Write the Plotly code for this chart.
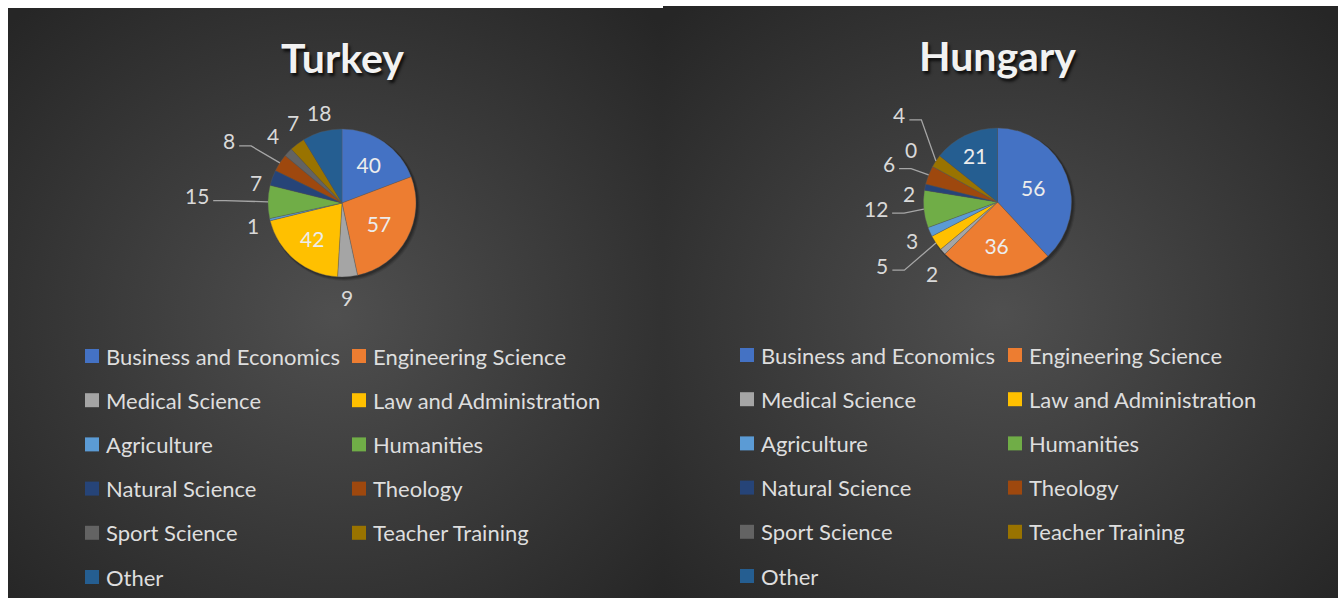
import base64
import math
import plotly.graph_objects as go

W, H = 1338, 598

categories = ["Business and Economics", "Engineering Science", "Medical Science",
              "Law and Administration", "Agriculture", "Humanities", "Natural Science",
              "Theology", "Sport Science", "Teacher Training", "Other"]
turkey_values = [40, 57, 9, 42, 1, 15, 7, 8, 4, 7, 18]
hungary_values = [56, 36, 2, 5, 3, 12, 2, 6, 0, 4, 21]
colors = ["#4472C4", "#ED7D31", "#A5A5A5", "#FFC000", "#5B9BD5", "#70AD47",
          "#264478", "#9E480E", "#636363", "#997300", "#255E91"]

# label layout (style, not data): which labels sit inside, nudges, leader lines
turkey_inside = [True, True, False, True, False, False, False, False, False, False, False]
hungary_inside = [True, True, False, False, False, False, False, False, False, False, True]
turkey_nudge = [(0, 0), (0, 0), (-2, 1), (0, 0), (3, 1), (-51, -6), (2, 12), (-34, -11),
                (-1, -3), (8, -6), (2, 0)]
hungary_nudge = [(0, 0), (0, 0), (4, 8), (-37, 11), (0, 0), (-28, -3), (4, 10), (-21, -4),
                 (-4, -7), (-20, -35), (0, 0)]
turkey_leader = [False, False, False, False, False, True, False, True, False, False, False]
hungary_leader = [False, False, False, True, False, True, False, True, False, True, False]

FONT = "Lato, 'Open Sans', sans-serif"
LABEL_SIZE = 21


def X(px):
    return px / W


def Y(py):
    return 1 - py / H


def grad_svg(w, h):
    svg = f'''<svg xmlns="http://www.w3.org/2000/svg" width="{w}" height="{h}" viewBox="0 0 {w} {h}" preserveAspectRatio="none">
<defs><radialGradient id="g" cx="50%" cy="52%" r="70%">
<stop offset="0%" stop-color="#4f4f4f"/><stop offset="100%" stop-color="#262626"/>
</radialGradient></defs><rect width="{w}" height="{h}" fill="url(#g)"/></svg>'''
    return "data:image/svg+xml;base64," + base64.b64encode(svg.encode()).decode()


panels = [
    dict(name="Turkey", values=turkey_values, inside=turkey_inside, nudge=turkey_nudge,
         leader=turkey_leader, box=(8, 8, 663, 598), cx=342, cy=203, r=74, title_y=57,
         legx=(85, 352), legy0=356),
    dict(name="Hungary", values=hungary_values, inside=hungary_inside, nudge=hungary_nudge,
         leader=hungary_leader, box=(663, 6, 1338, 598), cx=997.5, cy=202, r=74, title_y=55,
         legx=(740, 1008), legy0=355),
]

fig = go.Figure()
images, shapes, annotations = [], [], []
for p in panels:
    x0, y0, x1, y1 = p["box"]
    images.append(dict(source=grad_svg(x1 - x0, y1 - y0), xref="paper", yref="paper",
                       x=X(x0), y=Y(y0), sizex=(x1 - x0) / W, sizey=(y1 - y0) / H,
                       xanchor="left", yanchor="top", sizing="stretch", layer="below"))
    cx, cy, r = p["cx"], p["cy"], p["r"]
    # soft drop shadow under the pie
    for k, op in ((4, 0.10), (3, 0.14), (2, 0.18)):
        shapes.append(dict(type="circle", xref="paper", yref="paper",
                           x0=X(cx - r + 1), x1=X(cx + r + k), y0=Y(cy + r + k), y1=Y(cy - r + 1),
                           fillcolor=f"rgba(0,0,0,{op})", line=dict(width=0), layer="below"))
    vals = p["values"]
    fig.add_trace(go.Pie(
        labels=categories, values=vals, sort=False, direction="clockwise",
        rotation=0, textinfo="value",
        textposition=["inside" if ins else "none" for ins in p["inside"]],
        insidetextorientation="horizontal",
        insidetextfont=dict(family=FONT, size=LABEL_SIZE, color="#ececec"),
        marker=dict(colors=colors, line=dict(color="rgba(90,90,90,0.6)", width=0.6)),
        domain=dict(x=[X(cx - r), X(cx + r)], y=[Y(cy + r), Y(cy - r)]),
        showlegend=False, hoverinfo="label+value",
    ))
    # outside data labels, placed from each slice's mid angle
    total = sum(vals)
    cum = 0
    for i, v in enumerate(vals):
        mid = (cum + v / 2) / total * 2 * math.pi
        cum += v
        if p["inside"][i]:
            continue
        dx, dy = math.sin(mid), -math.cos(mid)
        nx, ny = p["nudge"][i]
        lx = cx + (r + 20) * dx + nx
        ly = cy + (r + 20) * dy + ny
        txt = str(v)
        annotations.append(dict(text=txt, x=X(lx), y=Y(ly), xref="paper", yref="paper",
                                showarrow=False, xanchor="center", yanchor="middle",
                                font=dict(family=FONT, size=LABEL_SIZE, color="#d9d9d9")))
        if p["leader"][i]:
            hw = 0.29 * LABEL_SIZE * len(txt)
            ex, ey = cx + r * dx, cy + r * dy
            sx, sy = lx + hw + 4, ly + 5
            kx = sx + 12
            path = f"M {X(sx)},{Y(sy)} L {X(kx)},{Y(sy)} L {X(ex)},{Y(ey)}"
            shapes.append(dict(type="path", path=path, xref="paper", yref="paper",
                               line=dict(color="#a6a6a6", width=1.3), layer="above"))
    annotations.append(dict(text=f"<b>{p['name']}</b>", x=X(cx), y=Y(p["title_y"]),
                            xref="paper", yref="paper", showarrow=False,
                            xanchor="center", yanchor="middle",
                            font=dict(family=FONT, size=41, color="#f2f2f2",
                                      shadow="2px 3px 3px rgba(0,0,0,0.75)")))
    # legend
    for i, (cat, col) in enumerate(zip(categories, colors)):
        row, c = divmod(i, 2)
        sx = p["legx"][c]
        sy = p["legy0"] + row * 44.2
        shapes.append(dict(type="rect", xref="paper", yref="paper",
                           x0=X(sx), x1=X(sx + 14), y0=Y(sy - 7), y1=Y(sy + 7),
                           fillcolor=col, line=dict(width=0), layer="above"))
        annotations.append(dict(text=cat, x=X(sx + 19), y=Y(sy), xref="paper", yref="paper",
                                showarrow=False, xanchor="left", yanchor="middle",
                                font=dict(family=FONT, size=22, color="#dedede")))

fig.update_layout(
    width=W, height=H, margin=dict(l=0, r=0, t=0, b=0),
    paper_bgcolor="white", plot_bgcolor="white",
    images=images, shapes=shapes, annotations=annotations,
    font=dict(family=FONT),
)
fig.write_html("out.html", config={"displayModeBar": False},
               post_script="document.body.style.margin='0';")
